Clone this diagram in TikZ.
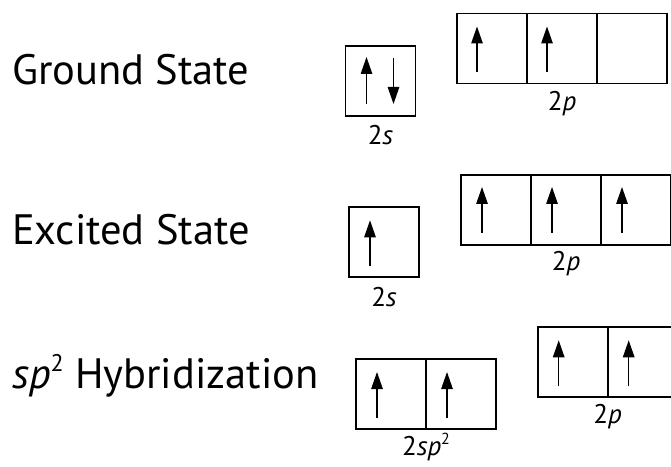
\documentclass[tikz,border=0pt]{standalone}
\usepackage{fontspec}
\setmainfont{PT Sans}
\usepackage{tikz}
\usetikzlibrary{arrows.meta,positioning}
\newcommand{\suptwo}[1]{\raisebox{0.4em}{\fontsize{#1}{#1}\selectfont 2}}

\begin{document}
\begin{tikzpicture}[
  x=1pt,y=1pt,
  node distance=0pt,
  cell/.style={draw,line width=1.8pt,minimum width=70pt,minimum height=70pt,
    inner sep=0pt,outer sep=0pt},
  state/.style={anchor=base west,inner sep=0pt,font=\fontsize{42.5}{42.5}\selectfont},
  orbname/.style={anchor=base,inner sep=0pt,font=\fontsize{27}{27}\selectfont},
  spin/.style={-{Triangle[length=17pt,width=11.5pt]},line width=1.3pt}
]
  \useasboundingbox (0,0) rectangle (671,466);
  % left column
  \node[state] (gs) at (12,381) {Ground State};
  \node[state] (es) at (12,221) {Excited State};
  \node[state] (hs) at (12,78) {\textit{sp}\suptwo{24} Hybridization};
  % ground state
  \node[cell] (g2s) at (380.5,385) {};
  \node[cell] (g2pa) at (492,417.5) {};
  \node[cell,right=of g2pa] (g2pb) {};
  \node[cell,right=of g2pb] (g2pc) {};
  \node[orbname] (g2slbl) at ([yshift=-29pt]g2s.south) {2\textit{s}};
  \node[orbname] (g2plbl) at ([yshift=-27pt]g2pb.south) {2\textit{p}};
  \draw[spin] ([xshift=21pt,yshift=12pt]g2s.south west) -- ++(0pt,47pt);
  \draw[spin] ([xshift=48pt,yshift=-12pt]g2s.north west) -- ++(0pt,-46pt);
  \draw[spin] ([xshift=20pt,yshift=11pt]g2pa.south west) -- ++(0pt,46pt);
  \draw[spin] ([xshift=20pt,yshift=11pt]g2pb.south west) -- ++(0pt,46pt);
  % excited state
  \node[cell] (e2s) at (384,223.7) {};
  \node[cell] (e2pa) at (496,256) {};
  \node[cell,right=of e2pa] (e2pb) {};
  \node[cell,right=of e2pb] (e2pc) {};
  \node[orbname] (e2slbl) at ([yshift=-29pt]e2s.south) {2\textit{s}};
  \node[orbname] (e2plbl) at ([yshift=-26pt]e2pb.south) {2\textit{p}};
  \draw[spin] ([xshift=21pt,yshift=11pt]e2s.south west) -- ++(0pt,46pt);
  \foreach \c in {e2pa,e2pb,e2pc}
    \draw[spin] ([xshift=21pt,yshift=12pt]\c.south west) -- ++(0pt,46pt);
  % sp2 hybridization
  \node[cell] (h2spa) at (391,72) {};
  \node[cell,right=of h2spa] (h2spb) {};
  \node[cell] (h2pa) at (572.7,103.7) {};
  \node[cell,right=of h2pa] (h2pb) {};
  \node[orbname] (h2splbl) at ([yshift=-26pt]h2spa.south east) {2\textit{sp}\suptwo{16}};
  \node[orbname] (h2plbl) at ([yshift=-26pt]h2pa.south east) {2\textit{p}};
  \foreach \c in {h2spa,h2spb,h2pa,h2pb}
    \draw[spin] ([xshift=21pt,yshift=11pt]\c.south west) -- ++(0pt,46pt);
\end{tikzpicture}
\end{document}
